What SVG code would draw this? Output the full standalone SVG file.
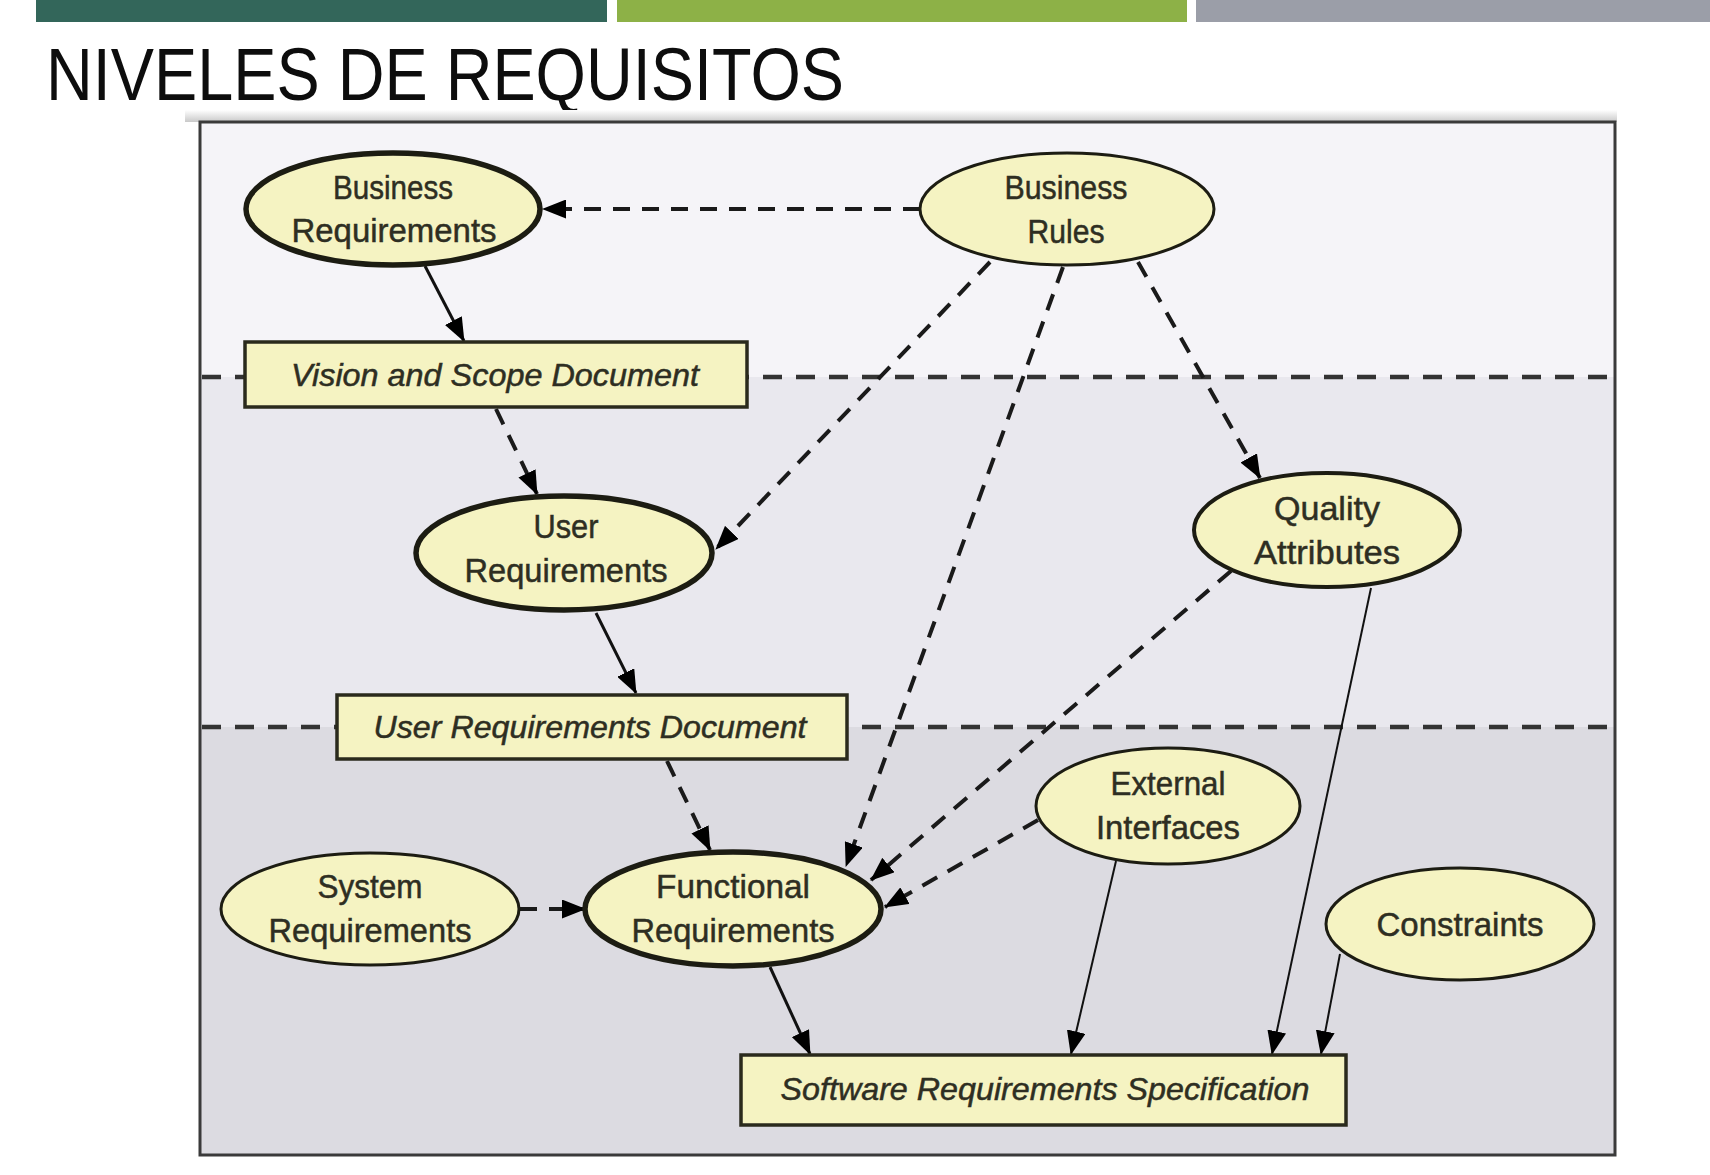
<svg xmlns="http://www.w3.org/2000/svg" width="1710" height="1175" viewBox="0 0 1710 1175">
<style>
.title{font-family:"Liberation Sans",Arial,sans-serif;font-size:74px;fill:#0d0d0d}
.lbl{font-family:"Liberation Sans",Arial,sans-serif;font-size:34px;fill:#2e2e22;stroke:#2e2e22;stroke-width:0.5;text-anchor:middle}
.doc{font-family:"Liberation Sans",Arial,sans-serif;font-size:32px;font-style:italic;fill:#2e2e22;stroke:#2e2e22;stroke-width:0.5;text-anchor:middle}
.ell{fill:#f5f3c2;stroke:#1c1c12;stroke-width:3}
.ell.thick{stroke-width:5.5}
.box{fill:#f5f3c2;stroke:#2a2a1c;stroke-width:3.5}
.band{fill:none;stroke:#333;stroke-width:4.5;stroke-dasharray:19 14}
.solid{fill:none;stroke:#111;stroke-width:3}
.thin{fill:none;stroke:#111;stroke-width:2}
.dash{fill:none;stroke:#1a1a1a;stroke-width:4;stroke-dasharray:17 12}
</style>
<defs>
<marker id="arr" viewBox="0 0 24 19" refX="23" refY="9.5" markerWidth="24" markerHeight="19" orient="auto" markerUnits="userSpaceOnUse">
<path d="M0,0 L24,9.5 L0,19 z" fill="#000"/>
</marker>
<linearGradient id="shadow" x1="0" y1="0" x2="0" y2="1">
<stop offset="0" stop-color="#ffffff"/>
<stop offset="1" stop-color="#c9c9c9"/>
</linearGradient>
</defs>
<rect x="0" y="0" width="1710" height="1175" fill="#ffffff"/>
<g id="header">
<rect x="36" y="0" width="571" height="22" fill="#33665a"/>
<rect x="617" y="0" width="570" height="22" fill="#8db147"/>
<rect x="1196" y="0" width="514" height="22" fill="#9b9ea8"/>
<text class="title" x="46" y="100" textLength="798" lengthAdjust="spacingAndGlyphs">NIVELES DE REQUISITOS</text>
</g>
<g id="frame">
<rect x="185" y="110" width="1432" height="12" fill="url(#shadow)"/>
<rect x="200" y="122" width="1415" height="255" fill="#f5f4f8"/>
<rect x="200" y="377" width="1415" height="350" fill="#e9e8ee"/>
<rect x="200" y="727" width="1415" height="428" fill="#dcdbe1"/>
<rect x="200" y="122" width="1415" height="1033" fill="none" stroke="#3a3a3a" stroke-width="3"/>
<line class="band" x1="202" y1="377" x2="1612" y2="377"/>
<line class="band" x1="202" y1="727" x2="1612" y2="727"/>
</g>
<g id="connectors">
<path class="dash" d="M920,209 L543,209" marker-end="url(#arr)"/>
<path class="solid" d="M425,266 L464,341" marker-end="url(#arr)"/>
<path class="dash" d="M496,409 L537,494" marker-end="url(#arr)"/>
<path class="dash" d="M990,262 L716,549" marker-end="url(#arr)"/>
<path class="dash" d="M1063,267 L846,866" marker-end="url(#arr)"/>
<path class="dash" d="M1138,262 L1260,478" marker-end="url(#arr)"/>
<path class="dash" d="M1231,571 L871,880" marker-end="url(#arr)"/>
<path class="dash" d="M1038,820 L885,907" marker-end="url(#arr)"/>
<path class="solid" d="M596,613 L636,693" marker-end="url(#arr)"/>
<path class="dash" d="M667,761 L710,850" marker-end="url(#arr)"/>
<path class="dash" d="M520,909 L585,909" marker-end="url(#arr)"/>
<path class="solid" d="M770,967 L810,1054" marker-end="url(#arr)"/>
<path class="thin" d="M1116,861 L1071,1054" marker-end="url(#arr)"/>
<path class="thin" d="M1371,588 L1272,1054" marker-end="url(#arr)"/>
<path class="thin" d="M1340,954 L1321,1054" marker-end="url(#arr)"/>
</g>
<g id="business-requirements">
<ellipse class="ell thick" cx="393" cy="209" rx="147" ry="56"/>
<text class="lbl" x="393" y="199" textLength="120" lengthAdjust="spacingAndGlyphs">Business</text>
<text class="lbl" x="394" y="242" textLength="205" lengthAdjust="spacingAndGlyphs">Requirements</text>
</g>
<g id="business-rules">
<ellipse class="ell" cx="1067" cy="209" rx="147" ry="56"/>
<text class="lbl" x="1066" y="199" textLength="123" lengthAdjust="spacingAndGlyphs">Business</text>
<text class="lbl" x="1066" y="243" textLength="77" lengthAdjust="spacingAndGlyphs">Rules</text>
</g>
<g id="vision-scope">
<rect class="box" x="245" y="342" width="502" height="65"/>
<text class="doc" x="495" y="386" textLength="408" lengthAdjust="spacingAndGlyphs">Vision and Scope Document</text>
</g>
<g id="user-requirements">
<ellipse class="ell thick" cx="564" cy="553" rx="148" ry="57"/>
<text class="lbl" x="566" y="538" textLength="65" lengthAdjust="spacingAndGlyphs">User</text>
<text class="lbl" x="566" y="582" textLength="203" lengthAdjust="spacingAndGlyphs">Requirements</text>
</g>
<g id="quality-attributes">
<ellipse class="ell" style="stroke-width:4" cx="1327" cy="530" rx="133" ry="57"/>
<text class="lbl" x="1327" y="520" textLength="106" lengthAdjust="spacingAndGlyphs">Quality</text>
<text class="lbl" x="1327" y="564" textLength="146" lengthAdjust="spacingAndGlyphs">Attributes</text>
</g>
<g id="user-requirements-document">
<rect class="box" x="337" y="695" width="510" height="64"/>
<text class="doc" x="590" y="738" textLength="433" lengthAdjust="spacingAndGlyphs">User Requirements Document</text>
</g>
<g id="external-interfaces">
<ellipse class="ell" cx="1168" cy="806" rx="132" ry="58"/>
<text class="lbl" x="1168" y="795" textLength="115" lengthAdjust="spacingAndGlyphs">External</text>
<text class="lbl" x="1168" y="839" textLength="144" lengthAdjust="spacingAndGlyphs">Interfaces</text>
</g>
<g id="system-requirements">
<ellipse class="ell" cx="370" cy="909" rx="149" ry="56"/>
<text class="lbl" x="370" y="898" textLength="105" lengthAdjust="spacingAndGlyphs">System</text>
<text class="lbl" x="370" y="942" textLength="203" lengthAdjust="spacingAndGlyphs">Requirements</text>
</g>
<g id="functional-requirements">
<ellipse class="ell thick" cx="733" cy="909" rx="148" ry="57"/>
<text class="lbl" x="733" y="898" textLength="154" lengthAdjust="spacingAndGlyphs">Functional</text>
<text class="lbl" x="733" y="942" textLength="203" lengthAdjust="spacingAndGlyphs">Requirements</text>
</g>
<g id="constraints">
<ellipse class="ell" cx="1460" cy="924" rx="134" ry="56"/>
<text class="lbl" x="1460" y="936" textLength="167" lengthAdjust="spacingAndGlyphs">Constraints</text>
</g>
<g id="software-requirements-specification">
<rect class="box" x="741" y="1055" width="605" height="70"/>
<text class="doc" x="1045" y="1100" textLength="529" lengthAdjust="spacingAndGlyphs">Software Requirements Specification</text>
</g>
</svg>
